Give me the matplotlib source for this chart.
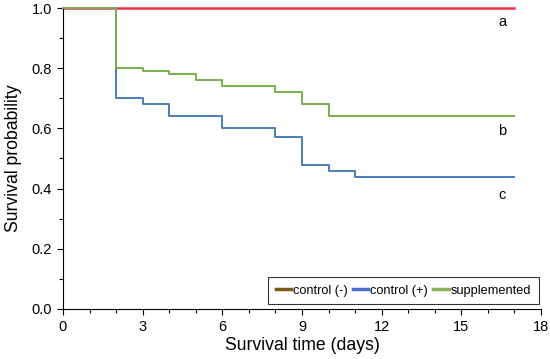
import matplotlib
matplotlib.use("Agg")
import matplotlib.pyplot as plt
from matplotlib.ticker import MultipleLocator
from matplotlib.lines import Line2D

plt.rcParams['font.family'] = ['Liberation Sans', 'DejaVu Sans']

# Data (step survival curves, value holds from time t[i] onward)
t_neg = [0, 17]
s_neg = [1.0, 1.0]

t_pos = [0, 2, 3, 4, 6, 8, 9, 10, 11, 17]
s_pos = [1.0, 0.70, 0.68, 0.64, 0.60, 0.57, 0.48, 0.46, 0.44, 0.44]

t_sup = [0, 2, 3, 4, 5, 6, 8, 9, 10, 17]
s_sup = [1.0, 0.80, 0.79, 0.78, 0.76, 0.74, 0.72, 0.68, 0.64, 0.64]

labels = ["control (-)", "control (+)", "supplemented"]
letters = ["a", "b", "c"]
letter_x = [16.55, 16.55, 16.55]
letter_y = [0.953, 0.59, 0.38]

fig = plt.figure(figsize=(5.5, 3.59), dpi=100)
ax = fig.add_axes([0.1145, 0.1393, 0.8691, 0.8384])

ax.step(t_neg, s_neg, where='post', color='#e8334a', lw=1.8, zorder=2, clip_on=False)
ax.step(t_pos, s_pos, where='post', color='#4a7ebb', lw=1.4, zorder=3, clip_on=False)
ax.step(t_sup, s_sup, where='post', color='#77b04f', lw=1.4, zorder=4, clip_on=False)

for lx, ly, lt in zip(letter_x, letter_y, letters):
    ax.text(lx, ly, lt, ha='center', va='center', fontsize=10.5)

ax.set_xlim(0, 18)
ax.set_ylim(0, 1.0)
ax.xaxis.set_major_locator(MultipleLocator(3))
ax.xaxis.set_minor_locator(MultipleLocator(1))
ax.yaxis.set_major_locator(MultipleLocator(0.2))
ax.yaxis.set_minor_locator(MultipleLocator(0.1))
ax.yaxis.set_major_formatter(plt.FuncFormatter(lambda v, p: f"{v:.1f}"))
ax.tick_params(which='major', direction='out', length=4, width=0.8, labelsize=10.5, pad=4)
ax.tick_params(which='minor', direction='out', length=3, width=0.8)
ax.spines['top'].set_visible(False)
ax.spines['right'].set_visible(False)
ax.set_xlabel("Survival time (days)", fontsize=12.7, labelpad=2)
ax.set_ylabel("Survival probability", fontsize=12.7, labelpad=7)

handles = [Line2D([], [], color='#7b5a1f', lw=2.5),
           Line2D([], [], color='#4a6fd0', lw=2.5),
           Line2D([], [], color='#8cb05a', lw=2.5)]
leg = ax.legend(handles, labels, loc='lower right', bbox_to_anchor=(0.995, 0.015),
                ncol=3, fontsize=9.2, frameon=True, fancybox=False,
                handlelength=1.2, handletextpad=0.15, columnspacing=0.4,
                borderpad=0.6, borderaxespad=0.0)
leg.get_frame().set_edgecolor('black')
leg.get_frame().set_linewidth(0.8)

fig.savefig("out.png", dpi=100)
